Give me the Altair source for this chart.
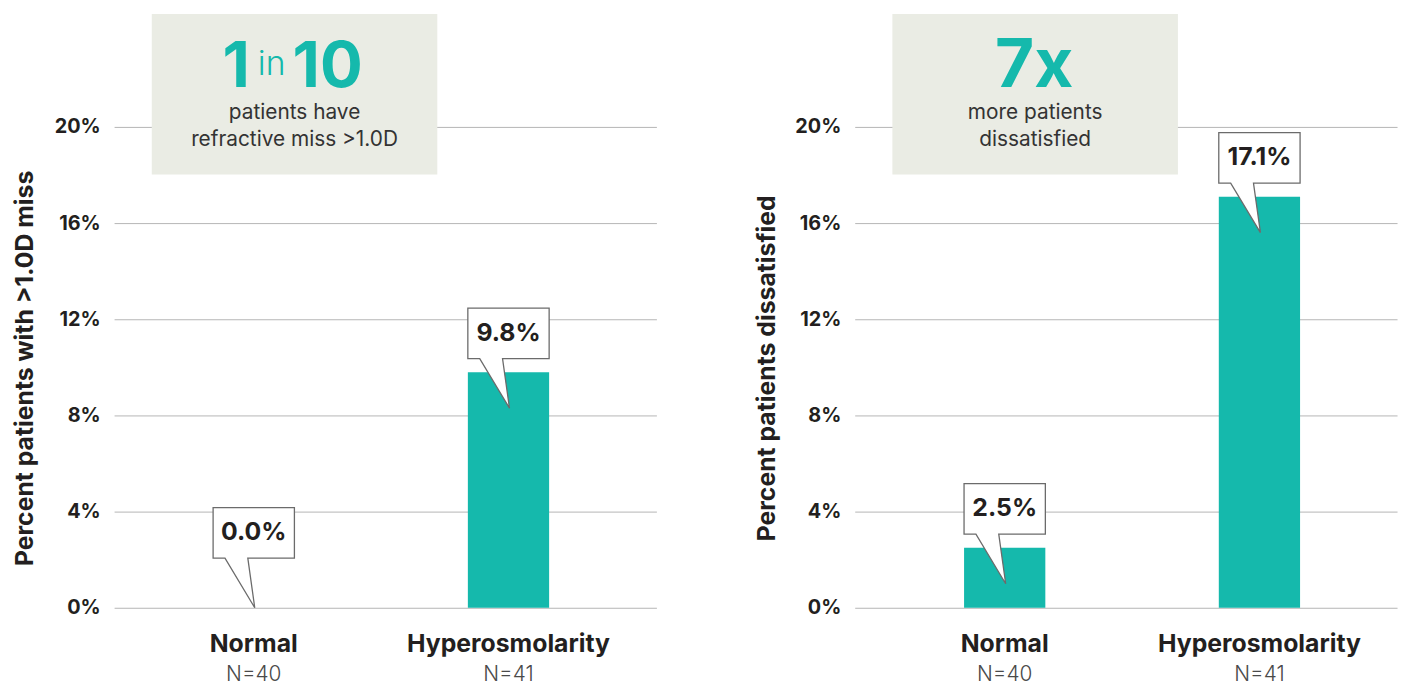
import altair as alt
import pandas as pd

# ---------------- data ----------------
categories = ["Normal", "Hyperosmolarity"]
n_counts = [40, 41]
refractive_miss_pct = [0.0, 9.8]
dissatisfied_pct = [2.5, 17.1]
y_ticks = [0, 4, 8, 12, 16, 20]

left_title = "Percent patients with >1.0D miss"
right_title = "Percent patients dissatisfied"
left_sub = ["patients have", "refractive miss >1.0D"]
right_sub = ["more patients", "dissatisfied"]

# ---------------- styles ----------------
FONT = "Inter"
TEAL = "#15b9ac"
BOX_BG = "#eaece4"
DARK = "#231f20"
GRID = "#b5b5b5"
W, H = 547, 599
YMAX = 24.7

# speech-bubble callout path, pixel units relative to tip (size=4 -> scale 1)
BUBBLE = "M1,0 L-29,-50 L-41,-50 L-41,-101 L41,-101 L41,-50 L-6,-50 Z"


def yaxis(title, title_x):
    return alt.Axis(
        values=y_ticks,
        labelExpr="datum.value + '%'",
        grid=True,
        gridColor=GRID,
        gridWidth=1,
        domain=False,
        ticks=False,
        labelPadding=14,
        labelFont=FONT,
        labelFontSize=20,
        labelFontWeight="bold",
        labelColor=DARK,
        title=title,
        titleFont=FONT,
        titleFontSize=25,
        titleFontWeight="bold",
        titleColor=DARK,
        titleX=title_x,
        titleY=357,
        titleAngle=-90,
        titleAlign="center",
        titleBaseline="middle",
    )


def panel(values, ytitle, big, sub, align, title_x):
    df = pd.DataFrame({"category": categories, "n": n_counts, "value": values})
    base = alt.Chart(df).transform_calculate(
        tip="max(0, datum.value - 1.5)",
        label="format(datum.value, '.1f') + '%'",
        nlabel="'N=' + datum.n",
    )
    xenc = alt.X(
        "category:N",
        sort=categories,
        axis=None,
        scale=alt.Scale(paddingInner=0.681, paddingOuter=0.405, align=align),
    )
    yscale = alt.Scale(domain=[0, YMAX], nice=False, zero=True)
    ax = yaxis(ytitle, title_x)

    bars = base.mark_bar(color=TEAL).encode(
        x=xenc, y=alt.Y("value:Q", scale=yscale, axis=ax)
    )

    ytip = alt.Y("tip:Q", scale=yscale, axis=ax)

    bubble_fill = base.mark_point(
        shape=BUBBLE, size=4, filled=True, fill="white", opacity=1, strokeWidth=0
    ).encode(x=xenc, y=ytip)

    bubble_line = base.mark_point(
        shape=BUBBLE, size=4, filled=False, stroke="#6b6b6b", strokeWidth=1.3, opacity=1
    ).encode(x=xenc, y=ytip)

    bubble_text = base.mark_text(
        font=FONT, fontSize=25, fontWeight="bold", color=DARK, dy=-76, baseline="middle"
    ).encode(x=xenc, y=ytip, text="label:N")

    cat_text = base.mark_text(
        font=FONT, fontSize=25, fontWeight="bold", color=DARK, baseline="middle"
    ).encode(x=xenc, y=alt.value(636), text="category:N")

    n_text = base.mark_text(
        font=FONT, fontSize=21, fontWeight=300, color="#4a4a4a", baseline="middle"
    ).encode(x=xenc, y=alt.value(667), text="nlabel:N")

    one = alt.Chart(pd.DataFrame({"k": [0]}))
    box = one.mark_rect(color=BOX_BG).encode(
        x=alt.value(38), x2=alt.value(326), y=alt.value(0), y2=alt.value(162)
    )
    big_layers = []
    for txt, size, weight, align_, xpos, ypos in big:
        big_layers.append(
            one.mark_text(
                text=txt, font=FONT, fontSize=size, fontWeight=weight, color=TEAL,
                align=align_, baseline="alphabetic",
            ).encode(x=alt.value(xpos), y=alt.value(ypos))
        )
    sub_layers = [
        one.mark_text(
            text=s, font=FONT, fontSize=21, color="#333333", align="center", baseline="middle"
        ).encode(x=alt.value(182), y=alt.value(yy))
        for s, yy in zip(sub, [100, 127])
    ]

    return alt.layer(
        bars, box, *big_layers, *sub_layers, bubble_fill, bubble_line, bubble_text, cat_text, n_text
    ).properties(width=W, height=H)


left = panel(
    refractive_miss_pct,
    left_title,
    [("1", 64, "bold", "right", 137, 74), ("in", 34, 300, "left", 145, 62), ("10", 64, "bold", "left", 180, 74)],
    left_sub,
    0.48,
    -90,
)
right = panel(
    dissatisfied_pct,
    right_title,
    [("7x", 68, "bold", "center", 181, 74)],
    right_sub,
    0.53,
    -89,
)

chart = (
    alt.hconcat(left, right, spacing=99)
    .properties(padding={"left": 5, "top": 3, "right": 5, "bottom": 5})
    .configure_view(stroke=None)
)

chart.save("out.html", embed_options={"renderer": "svg", "actions": False})
